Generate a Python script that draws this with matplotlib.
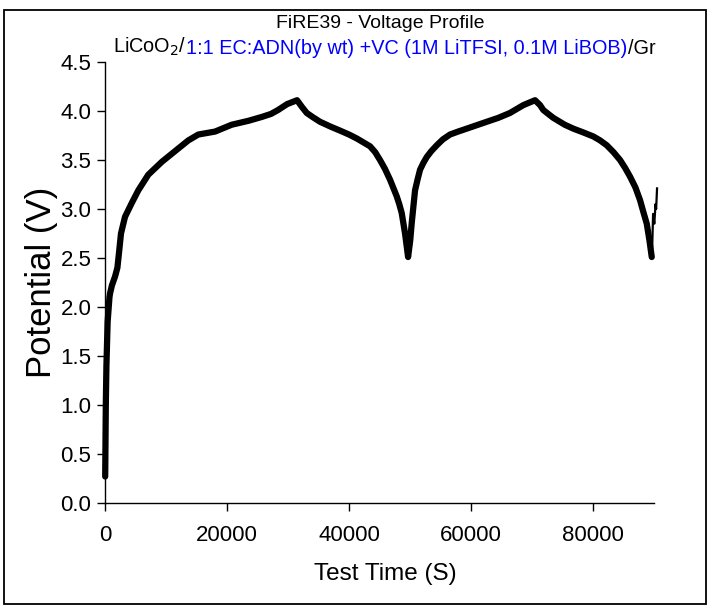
import matplotlib
matplotlib.use("Agg")
import matplotlib.pyplot as plt
from matplotlib.patches import Rectangle

plt.rcParams['font.family'] = ['Liberation Sans', 'DejaVu Sans']

# ---- data ----
time_s = [0, 100, 200, 400, 700, 800, 1100, 1610, 2000, 2260, 2590, 3250,
          4350, 5430, 7070, 9270, 11450, 13640, 15280, 18020, 20760,
          23500, 25730, 27200, 28360, 29840, 31480, 32300, 33070, 34000,
          35250, 37000, 38530, 40000, 41270, 43450, 44300, 45090, 45900,
          46730, 47830, 48250, 48650, 49200, 49450, 49700,
          50050, 50300, 50840, 51250, 51660, 52200, 52760, 53500, 54400,
          55400, 56580, 57900, 59320, 62600, 64500, 66420, 68610, 70530,
          71350, 71890, 72700, 73530, 75400, 76810, 78500, 80100, 81200,
          82300, 83400, 84480, 85300, 86120, 87000, 87760, 88300, 88860,
          89300, 89680]
potential_v = [0.27, 1.00, 1.40, 1.85, 2.10, 2.14, 2.22, 2.31, 2.40, 2.55, 2.75, 2.92,
               3.06, 3.19, 3.35, 3.48, 3.59, 3.70, 3.76, 3.79, 3.86,
               3.90, 3.94, 3.97, 4.01, 4.07, 4.11, 4.04, 3.98, 3.94,
               3.89, 3.84, 3.80, 3.76, 3.72, 3.64, 3.58, 3.50, 3.41,
               3.30, 3.13, 3.05, 2.96, 2.75, 2.63, 2.51,
               2.68, 2.86, 3.19, 3.30, 3.40, 3.47, 3.53, 3.59, 3.65,
               3.71, 3.76, 3.79, 3.82, 3.89, 3.93, 3.98, 4.06, 4.11,
               4.06, 4.01, 3.97, 3.93, 3.86, 3.82, 3.78, 3.74, 3.70,
               3.65, 3.58, 3.50, 3.42, 3.33, 3.22, 3.09, 2.97, 2.85,
               2.68, 2.51]
tail_time_s = [89680, 89750, 89900, 90100, 90300, 90400, 90550]
tail_potential_v = [2.51, 2.60, 2.95, 2.85, 3.05, 3.00, 3.21]

x_ticks = [0, 20000, 40000, 60000, 80000]
y_ticks = [0.0, 0.5, 1.0, 1.5, 2.0, 2.5, 3.0, 3.5, 4.0, 4.5]

title = "FiRE39 - Voltage Profile"
sub_parts = [("LiCoO$_2$/", "black"),
             ("1:1 EC:ADN(by wt) +VC (1M LiTFSI, 0.1M LiBOB)", "#0000ff"),
             ("/Gr", "black")]

W, H = 708, 605
fig = plt.figure(figsize=(W / 100, H / 100), dpi=100)
ax = fig.add_axes([105.2 / W, (H - 503) / H, 548.5 / W, 441 / H])

ax.plot(time_s, potential_v, color='black', lw=4.5, solid_joinstyle='round',
        solid_capstyle='round', clip_on=False, zorder=3)
ax.plot(tail_time_s, tail_potential_v, color='black', lw=1.6, clip_on=False, zorder=3)

ax.set_xlim(0, 90000)
ax.set_ylim(0, 4.5)
ax.set_xticks(x_ticks)
ax.set_xticklabels([str(v) for v in x_ticks])
ax.set_yticks(y_ticks)
ax.set_yticklabels([f"{v:.1f}" for v in y_ticks])

for s in ['top', 'right']:
    ax.spines[s].set_visible(False)
for s in ['left', 'bottom']:
    ax.spines[s].set_linewidth(1.0)
    ax.spines[s].set_color('black')
ax.tick_params(axis='both', direction='out', length=6, width=1.0, labelsize=16)
ax.tick_params(axis='x', pad=10)
ax.tick_params(axis='y', pad=4)

ax.set_xlabel("Test Time (S)", fontsize=17.5, labelpad=12)
ax.xaxis.set_label_coords(0.51, -0.135)
ax.set_ylabel("Potential (V)", fontsize=25, labelpad=2)

fig.text(380 / W, 1 - 23 / H, title, ha='center', va='center', fontsize=14)

# multicolour subtitle
prev = fig.text(113 / W, 1 - 47 / H, sub_parts[0][0], color=sub_parts[0][1],
                ha='left', va='center', fontsize=14.3)
for txt, col in sub_parts[1:]:
    prev = ax.annotate(txt, xy=(1, 0), xycoords=prev, ha='left', va='bottom',
                       color=col, fontsize=14.3, annotation_clip=False)

fig.patches.append(Rectangle((4 / W, 1 / H), 702 / W, (604 - 10) / H,
                             transform=fig.transFigure, fill=False,
                             edgecolor='black', lw=1.3))

fig.savefig("out.png", dpi=100)
